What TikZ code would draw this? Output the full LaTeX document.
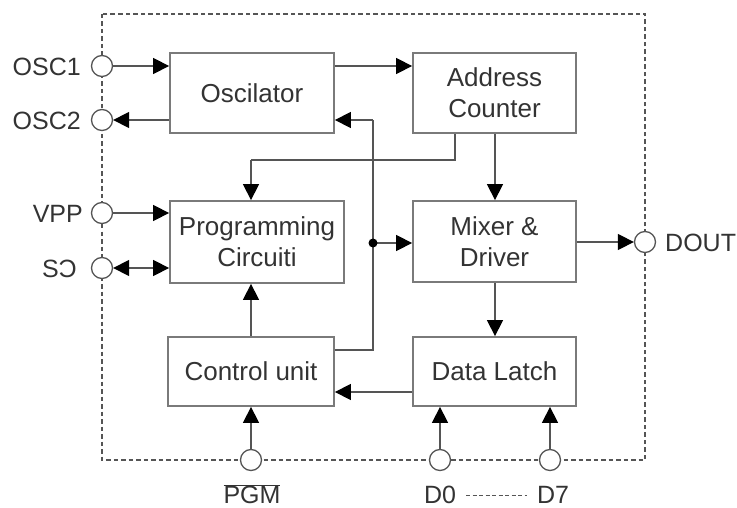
\documentclass[tikz,border=0pt]{standalone}
\usepackage{fontspec}
\setmainfont{Liberation Sans}
\usetikzlibrary{arrows.meta}
\definecolor{txt}{HTML}{333333}
\definecolor{boxc}{HTML}{7A7A7A}
\definecolor{linec}{HTML}{555555}
\begin{document}
\begin{tikzpicture}[x=1pt,y=-1pt,
  block/.style={draw=boxc,line width=1.8pt,rectangle,inner sep=0pt,align=center,text=txt,
    font=\fontsize{26}{31}\selectfont},
  pin/.style={draw=linec,line width=1.3pt,circle,minimum size=21pt,inner sep=0pt,fill=white},
  lbl/.style={text=txt,inner sep=0pt,font=\fontsize{25}{30}\selectfont},
  conn/.style={draw=linec,line width=1.4pt},
  tip/.style={Triangle[length=16pt,width=16pt,color=black]},
  arr/.style={conn,-{Triangle[length=16pt,width=16pt,color=black]}},
  darr/.style={conn,{Triangle[length=16pt,width=16pt,color=black]}-{Triangle[length=16pt,width=16pt,color=black]}}]
\useasboundingbox (0,0) rectangle (737,508);
% outer dashed box
\draw[linec,line width=1.1pt,dash pattern=on 4.5pt off 3pt] (102,14) rectangle (645,460);
% blocks
\node[block,minimum width=164pt,minimum height=80pt] (osc) at (252,93) {Oscilator};
\node[block,minimum width=163pt,minimum height=80pt] (addr) at (494.5,93) {Address\\Counter};
\node[block,minimum width=174pt,minimum height=82pt] (prog) at (257,242) {Programming\\Circuiti};
\node[block,minimum width=163pt,minimum height=81pt] (mix) at (494.5,241.5) {Mixer \&\\Driver};
\node[block,minimum width=166pt,minimum height=69pt] (ctrl) at (251,371.5) {Control unit};
\node[block,minimum width=163pt,minimum height=69pt] (latch) at (494.5,371.5) {Data Latch};
% pins
\node[pin] (osc1) at (102,66) {};
\node[pin] (osc2) at (102,120) {};
\node[pin] (vpp) at (102,213) {};
\node[pin] (sd) at (102,268) {};
\node[pin] (dout) at (645,242) {};
\node[pin] (pgm) at (251,460) {};
\node[pin] (d0) at (440,460) {};
\node[pin] (d7) at (550,460) {};
% pin labels
\node[lbl,anchor=east] (osc1l) at (81,67) {OSC1};
\node[lbl,anchor=east] (osc2l) at (81,121) {OSC2};
\node[lbl,anchor=east] (vppl) at (83,214) {VPP};
\node[lbl,anchor=east] (sdl) at (77,269) {SƆ};
\node[lbl,anchor=west] (doutl) at (665,243) {DOUT};
\node[lbl] (pgml) at (252,494) {$\overline{\mbox{PGM}}$};
\node[lbl] (d0l) at (440,495) {D0};
\node[lbl] (d7l) at (553,495) {D7};
\draw[linec,line width=1pt,dash pattern=on 4pt off 2.5pt] ([xshift=10pt]d0l.east) -- ([xshift=-10pt]d7l.west);
% junction coordinates
\coordinate (ac1) at (455,160);
\coordinate (ac2) at (251,160);
\coordinate (cr) at (373,350);
\coordinate (ct) at (373,120);
\coordinate (cj) at (373,243);
\coordinate (mx) at (495,0);
\coordinate (ly) at (0,392);
% connectors
\draw[arr] (osc1) -- (osc1 -| osc.west);
\draw[arr] (osc2 -| osc.west) -- (osc2);
\draw[arr] (vpp) -- (vpp -| prog.west);
\draw[darr] (sd) -- (sd -| prog.west);
\draw[arr] (osc.east |- osc1) -- (addr.west |- osc1);
\draw[conn] (addr.south -| ac1) -- (ac1) -- (ac2);
\draw[arr] (ac2) -- (prog.north -| ac2);
\draw[arr] (addr.south -| mx) -- (mix.north -| mx);
\draw[arr] (mix.south -| mx) -- (latch.north -| mx);
\draw[arr] (mix.east |- dout) -- (dout);
\draw[arr] (latch.west |- ly) -- (ctrl.east |- ly);
\draw[arr] (ctrl.north) -- (prog.south -| ctrl.north);
\draw[conn] (ctrl.east |- cr) -- (cr) -- (ct);
\draw[arr] (ct) -- (osc.east |- ct);
\draw[arr] (cj) -- (mix.west |- cj);
\fill[black] (cj) circle (4.5pt);
\draw[arr] (pgm) -- (ctrl.south -| pgm);
\draw[arr] (d0) -- (latch.south -| d0);
\draw[arr] (d7) -- (latch.south -| d7);
\end{tikzpicture}
\end{document}
